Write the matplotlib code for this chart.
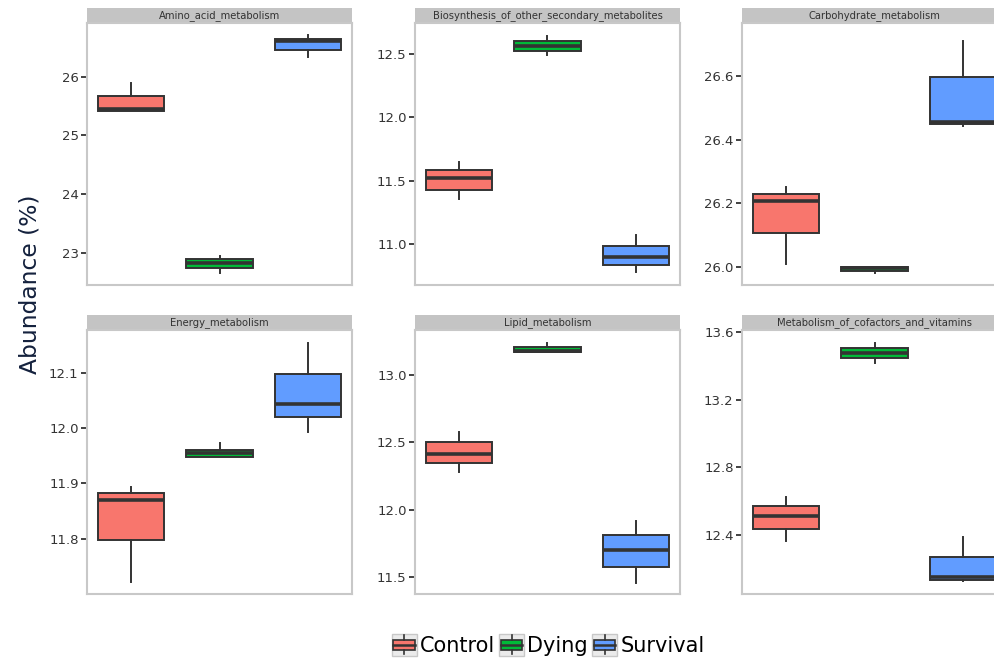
import matplotlib.pyplot as plt
from matplotlib.patches import Rectangle
from matplotlib.lines import Line2D
from matplotlib.legend_handler import HandlerBase

# Functional categories, one facet each
pathways = ['Amino_acid_metabolism', 'Biosynthesis_of_other_secondary_metabolites',
            'Carbohydrate_metabolism', 'Energy_metabolism', 'Lipid_metabolism',
            'Metabolism_of_cofactors_and_vitamins']
groups = ['Control', 'Dying', 'Survival']
group_colors = ['#F8766D', '#00BA38', '#619CFF']

# Box summaries per pathway, ordered Control / Dying / Survival
whislo = [[25.42, 22.66, 26.33], [11.36, 12.49, 10.78], [26.008, 25.979, 26.443],
          [11.721, 11.948, 11.993], [12.28, 13.168, 11.46], [12.366, 13.42, 12.127]]
q1 = [[25.42, 22.75, 26.45], [11.43, 12.52, 10.84], [26.107, 25.987, 26.449],
      [11.797, 11.948, 12.019], [12.347, 13.168, 11.575], [12.437, 13.446, 12.134]]
med = [[25.45, 22.83, 26.60], [11.52, 12.557, 10.90], [26.208, 25.994, 26.456],
       [11.869, 11.955, 12.044], [12.416, 13.18, 11.703], [12.514, 13.479, 12.15]]
q3 = [[25.67, 22.90, 26.64], [11.588, 12.60, 10.99], [26.23, 25.998, 26.596],
      [11.882, 11.961, 12.098], [12.50, 13.21, 11.81], [12.572, 13.509, 12.268]]
whishi = [[25.89, 22.95, 26.71], [11.645, 12.64, 11.07], [26.25, 25.998, 26.71],
          [11.894, 11.973, 12.153], [12.58, 13.235, 11.915], [12.627, 13.535, 12.386]]

yticks = [[23, 24, 25, 26], [11.0, 11.5, 12.0, 12.5], [26.0, 26.2, 26.4, 26.6],
          [11.8, 11.9, 12.0, 12.1], [11.5, 12.0, 12.5, 13.0], [12.4, 12.8, 13.2, 13.6]]
tick_fmt = ['{:.0f}', '{:.1f}', '{:.1f}', '{:.1f}', '{:.1f}', '{:.1f}']
ylims = [(22.46, 26.91), (10.68, 12.74), (25.942, 26.767),
         (11.70, 12.177), (11.376, 13.334), (12.051, 13.614)]


class BoxKey(HandlerBase):
    """Legend key: small boxplot glyph on a grey square."""
    def create_artists(self, legend, orig_handle, xdescent, ydescent,
                       width, height, fontsize, trans):
        x0, y0 = -xdescent, -ydescent
        bg = Rectangle((x0, y0), width, height, facecolor='#ebebeb',
                       edgecolor='#c8c8c8', linewidth=1.0, transform=trans)
        bx = Rectangle((x0 + width * 0.07, y0 + height * 0.28),
                       width * 0.86, height * 0.44, facecolor=orig_handle.get_facecolor(),
                       edgecolor='#333333', linewidth=1.2, transform=trans)
        cx = x0 + width / 2
        md = Line2D([x0 + width * 0.07, x0 + width * 0.93], [y0 + height / 2] * 2,
                    color='#333333', lw=1.8, transform=trans)
        wt = Line2D([cx, cx], [y0 + height * 0.72, y0 + height * 0.95],
                    color='#333333', lw=1.2, transform=trans)
        wb = Line2D([cx, cx], [y0 + height * 0.05, y0 + height * 0.28],
                    color='#333333', lw=1.2, transform=trans)
        return [bg, bx, md, wt, wb]


W, H = 995, 659
fig = plt.figure(figsize=(W / 100, H / 100), dpi=100)

col_left = [87, 415, 742]
row_span = [(23, 285), (330, 594)]
panel_w = 265
strip_h = 15

for i, name in enumerate(pathways):
    r, c = divmod(i, 3)
    top, bottom = row_span[r]
    ax = fig.add_axes([col_left[c] / W, 1 - bottom / H, panel_w / W, (bottom - top) / H])

    stats = []
    for g in range(3):
        stats.append({'whislo': whislo[i][g], 'q1': q1[i][g], 'med': med[i][g],
                      'q3': q3[i][g], 'whishi': whishi[i][g], 'fliers': []})
    bp = ax.bxp(stats, positions=[1, 2, 3], widths=0.75, patch_artist=True,
                showcaps=False,
                boxprops=dict(edgecolor='#333333', linewidth=1.4),
                whiskerprops=dict(color='#333333', linewidth=1.4),
                medianprops=dict(color='#333333', linewidth=2.6))
    for patch, col in zip(bp['boxes'], group_colors):
        patch.set_facecolor(col)

    ax.set_xlim(0.5, 3.5)
    ax.set_ylim(*ylims[i])
    ax.set_xticks([])
    ax.set_yticks(yticks[i])
    ax.set_yticklabels([tick_fmt[i].format(t) for t in yticks[i]])
    ax.tick_params(axis='y', length=4, width=1.3, color='#333333',
                   labelsize=9.5, labelcolor='#333333', pad=2)
    for sp in ax.spines.values():
        sp.set_color('#c8c8c8')
        sp.set_linewidth(1.5)

    # grey strip with the facet name
    sh = strip_h / (bottom - top)
    ax.add_patch(Rectangle((0, 1.0), 1, sh, transform=ax.transAxes,
                           facecolor='#c4c4c4', edgecolor='none', clip_on=False))
    ax.text(0.5, 1 + sh / 2, name, transform=ax.transAxes, ha='center', va='center',
            fontsize=7.2, color='#333333')

fig.text(30 / W, 1 - 284 / H, 'Abundance (%)', rotation=90, ha='center', va='center',
         fontsize=16.8, color='#14213d')

handles = [Rectangle((0, 0), 1, 1, facecolor=col) for col in group_colors]
fig.legend(handles, groups, loc='center', bbox_to_anchor=(548 / W, 1 - 645 / H),
           ncol=3, frameon=False, fontsize=15, handlelength=1.2, handleheight=1.2,
           handletextpad=0.15, columnspacing=0.2, borderpad=0.2,
           handler_map={Rectangle: BoxKey()})

fig.savefig('out.png', dpi=100)
